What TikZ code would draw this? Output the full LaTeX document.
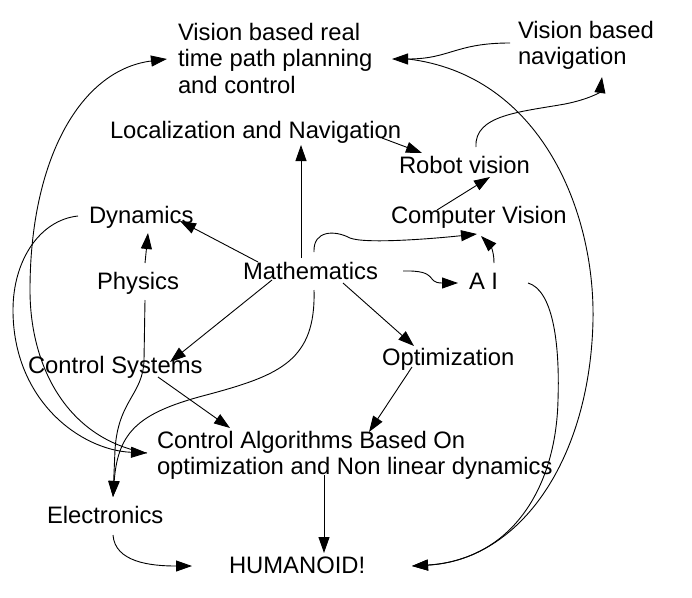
\documentclass[tikz,border=0pt]{standalone}
\usepackage{fontspec}
\setmainfont{Liberation Sans}
\usetikzlibrary{arrows.meta}
\begin{document}
\begin{tikzpicture}[x=1pt,y=-1pt,
  lbl/.style={anchor=base west,inner sep=0pt,outer sep=0pt,font=\fontsize{23.8}{26.7}\selectfont},
  con/.style={line width=0.9pt,-{Triangle[length=16pt,width=11pt]}}]
\useasboundingbox (0,0) rectangle (692,597);
\fill[white] (0,0) rectangle (692,597);
% nodes
\node[lbl] (visrt) at (178,40) {\begin{tabular}[t]{@{}l@{}}Vision based real\\time path planning\\and control\end{tabular}};
\node[lbl] (visnav) at (518,38) {\begin{tabular}[t]{@{}l@{}}Vision based\\navigation\end{tabular}};
\node[lbl] (loc) at (110,138) {Localization and Navigation};
\node[lbl] (robot) at (399,173) {Robot vision};
\node[lbl] (dyn) at (89,223) {Dynamics};
\node[lbl] (cv) at (391,223) {Computer Vision};
\node[lbl] (phys) at (97,289) {Physics};
\node[lbl] (math) at (243,279) {Mathematics};
\node[lbl] (ai) at (469,289) {A I};
\node[lbl] (cs) at (28,373) {Control Systems};
\node[lbl] (opt) at (382,365) {Optimization};
\node[lbl] (ca) at (157,448) {\begin{tabular}[t]{@{}l@{}}Control Algorithms Based On\\optimization and Non linear dynamics\end{tabular}};
\node[lbl] (elec) at (47,523) {Electronics};
\node[lbl] (hum) at (229,573) {HUMANOID!};
% connectors
\draw[con] ([shift={(58,-21)}]math.base west) -- ([shift={(191,7)}]loc.base west);
\draw[con] ([shift={(15,-17)}]math.base west) -- ([shift={(91,-2)}]dyn.base west);
\draw[con] ([shift={(29,1)}]math.base west) -- ([shift={(142,-11)}]cs.base west);
\draw[con] ([shift={(100,4)}]math.base west) -- ([shift={(32,-19)}]opt.base west);
\draw[con] ([shift={(160,-8)}]math.base west) .. controls +(37,-1) and +(-33,0) .. ([shift={(-11,-6)}]ai.base west);
\draw[con] ([shift={(71,-27)}]math.base west) .. controls +(-1,-22) and +(-15,-8) .. (350,238) .. controls +(15,6) and +(-47,5) .. ([shift={(86,11)}]cv.base west);
\draw[con] ([shift={(25,-26)}]ai.base west) .. controls +(0,-14) and +(8,8) .. ([shift={(90,13)}]cv.base west);
\draw[con] ([shift={(46,-13)}]cv.base west) -- ([shift={(91,4)}]robot.base west);
\draw[con] ([shift={(272,0)}]loc.base west) -- ([shift={(23,-20)}]robot.base west);
\draw[con] ([shift={(77,-26)}]robot.base west) .. controls +(-2,-32) and +(-45,8) .. (565,104) .. controls +(25,-5) and +(-2,15) .. ([shift={(84,39)}]visnav.base west);
\draw[con] ([shift={(-8,5)}]visnav.base west) .. controls +(-55,0) and +(58,0) .. ([shift={(214,19)}]visrt.base west);
\draw[con] ([shift={(230,19)}]visrt.base west) .. controls +(132,16) and +(2,-110) .. (593,320) .. controls +(-3,140) and +(108,-6) .. ([shift={(183,-7)}]hum.base west);
\draw[con] ([shift={(59,-6)}]ai.base west) .. controls +(24,7) and +(2,-60) .. (558,400) .. controls +(-2,90) and +(98,-6) .. ([shift={(183,-7)}]hum.base west);
\draw[con] ([shift={(-10,5)}]ca.base west) .. controls +(-77,-13) and +(0,80) .. (30,290) .. controls +(0,-130) and +(-87,11) .. ([shift={(-11,19)}]visrt.base west);
\draw[con] ([shift={(-11,-7)}]dyn.base west) .. controls +(-38,4) and +(0,-50) .. (13,310) .. controls +(0,90) and +(-67,-3) .. ([shift={(-10,5)}]ca.base west);
\draw[con] ([shift={(48,-26)}]phys.base west) -- ([shift={(59,10)}]dyn.base west);
\draw[con] ([shift={(48,11)}]phys.base west) -- (144,360) .. controls +(-1,35) and +(3,-50) .. (115,450) -- ([shift={(66,-26)}]elec.base west);
\draw[con] ([shift={(71,11)}]math.base west) .. controls +(2,70) and +(70,-19) .. (210,394) .. controls +(-70,18) and +(5,-67) .. ([shift={(66,-26)}]elec.base west);
\draw[con] ([shift={(130,4)}]cs.base west) -- ([shift={(73,-20)}]ca.base west);
\draw[con] ([shift={(30,2)}]opt.base west) -- ([shift={(212,-16)}]ca.base west);
\draw[con] ([shift={(167,27)}]ca.base west) -- ([shift={(95,-20)}]hum.base west);
\draw[con] ([shift={(66,12)}]elec.base west) .. controls +(2,27) and +(-42,0) .. ([shift={(-37,-7)}]hum.base west);
\end{tikzpicture}
\end{document}
